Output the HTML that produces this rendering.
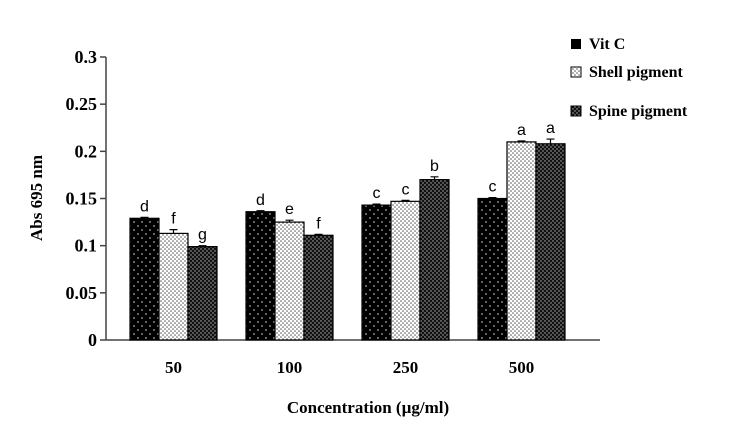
<!DOCTYPE html>
<html><head><meta charset="utf-8"><style>
body{margin:0;background:#fff;width:738px;height:417px;overflow:hidden}
text{font-family:"Liberation Serif",serif;font-weight:bold}
.lt{font-family:"Liberation Sans","DejaVu Sans",sans-serif;font-weight:normal}
</style></head><body>
<svg width="738" height="417">
<defs>
<pattern id="pv" width="8" height="8" patternUnits="userSpaceOnUse"><rect width="8" height="8" fill="#000"/><circle cx="2" cy="2" r="0.9" fill="#aaa"/><circle cx="6" cy="6" r="0.9" fill="#aaa"/></pattern>
<pattern id="ps" width="4" height="4" patternUnits="userSpaceOnUse"><rect width="4" height="4" fill="#fff"/><circle cx="1" cy="1" r="0.8" fill="#555"/><circle cx="3" cy="3" r="0.8" fill="#555"/></pattern>
<pattern id="pp" width="4" height="4" patternUnits="userSpaceOnUse"><rect width="4" height="4" fill="#111"/><circle cx="1" cy="1" r="0.7" fill="#bbb"/><circle cx="3" cy="3" r="0.7" fill="#bbb"/></pattern>
</defs>
<g id="plot"></g>
<text x="42" y="198" font-size="17" text-anchor="middle" transform="rotate(-90 42 198)">Abs 695 nm</text>
<text x="368" y="413" font-size="17" text-anchor="middle">Concentration (µg/ml)</text>
<g>
<rect x="571" y="39" width="10" height="10" fill="#000"/>
<text x="589" y="49" font-size="16">Vit C</text>
<rect x="571" y="67" width="10" height="10" fill="url(#ps)" stroke="#000"/>
<text x="589" y="77" font-size="16">Shell pigment</text>
<rect x="571" y="106" width="10" height="10" fill="url(#pp)" stroke="#000"/>
<text x="589" y="116" font-size="16">Spine pigment</text>
</g>
</svg>
<script>
const categories=["50","100","250","500"];
const vitC=[0.129,0.136,0.143,0.150];
const shell=[0.113,0.125,0.147,0.210];
const spine=[0.099,0.111,0.170,0.208];
const errVitC=[0.001,0.001,0.001,0.001];
const errShell=[0.004,0.002,0.001,0.001];
const errSpine=[0.001,0.001,0.003,0.005];
const lettersVitC=["d","d","c","c"];
const lettersShell=["f","e","c","a"];
const lettersSpine=["g","f","b","a"];
const yTicks=[0,0.05,0.1,0.15,0.2,0.25,0.3];
const yTickLabels=["0","0.05","0.1","0.15","0.2","0.25","0.3"];

const NS="http://www.w3.org/2000/svg";
const g=document.getElementById('plot');
const y0=340,y1=57,ax=106;
const y=v=>y0-(v/0.3)*(y0-y1);
const step=116,start=115.5,bw=29;
const xg=i=>start+i*step+14.5;
function mk(t,a,p){const e=document.createElementNS(NS,t);for(const k in a)e.setAttribute(k,a[k]);(p||g).appendChild(e);return e;}
let e;
e=mk('line',{x1:ax,y1:y0,x2:600,y2:y0,stroke:'#444','stroke-width':1.5});


e=mk('line',{x1:ax,y1:y1,x2:ax,y2:y0,stroke:'#444','stroke-width':1.5});


yTicks.forEach((v,i)=>{
 e=mk('line',{x1:ax-6,y1:y(v),x2:ax,y2:y(v),stroke:'#444','stroke-width':1.5});
 
 
 e=mk('text',{x:ax-9,y:y(v)+6,'text-anchor':'end','font-size':18});
 e.textContent=yTickLabels[i];
 
 
});
const series=[[vitC,errVitC,lettersVitC,'url(#pv)','vitc'],[shell,errShell,lettersShell,'url(#ps)','shell'],[spine,errSpine,lettersSpine,'url(#pp)','spine']];
categories.forEach((c,i)=>{
 e=mk('text',{x:xg(i)+43.5,y:373,'text-anchor':'middle','font-size':17});
 e.textContent=c;
 
 
 series.forEach((s,j)=>{
  const v=s[0][i],x=xg(i)+j*bw;
  e=mk('rect',{x:x,y:y(v),width:bw,height:y0-y(v),fill:s[3],stroke:'#000','stroke-width':1.2});
  
  
  const ye=y(v+s[1][i]);
  e=mk('path',{d:`M${x+bw/2} ${y(v)}V${ye}M${x+bw/2-4} ${ye}H${x+bw/2+4}`,stroke:'#000','stroke-width':1.2,fill:'none'});
  
  
  e=mk('text',{x:x+bw/2,y:ye-6,'text-anchor':'middle','font-size':16,class:'lt'});
  e.textContent=s[2][i];
  
  
 });
});
</script>
</body></html>
